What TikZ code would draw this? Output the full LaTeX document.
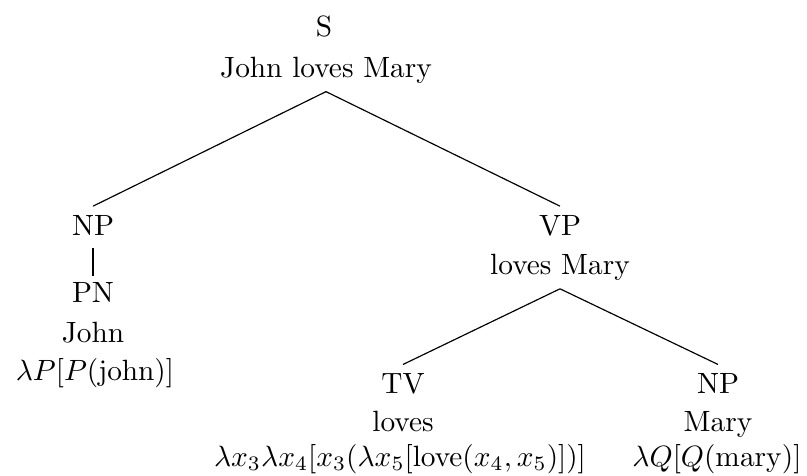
\documentclass[tikz,border=0pt]{standalone}
\begin{document}
\begin{tikzpicture}[x=0.341pt,y=-0.341pt,
  lbl/.style={inner sep=0pt,anchor=base},
  edge/.style={draw=black,line width=0.4pt}]
\useasboundingbox (0,0) rectangle (807,476);
% root
\node[lbl] (s) at (324,37) {S};
\node[lbl] (jlm) at (326,78) {John loves Mary};
% left branch
\node[lbl] (np1) at (93,235) {NP};
\node[lbl] (pn) at (93,302) {PN};
\node[lbl] (john) at (93,342) {John};
\node[lbl] (lp) at (95,380) {$\lambda P[P(\mathrm{john})]$};
% right branch
\node[lbl] (vp) at (560,235) {VP};
\node[lbl] (lm) at (560,274) {loves Mary};
\node[lbl] (tv) at (403,393) {TV};
\node[lbl] (loves) at (403,431) {loves};
\node[lbl] (lf) at (400,466) {$\lambda x_3\lambda x_4[x_3(\lambda x_5[\mathrm{love}(x_4,x_5)])]$};
\node[lbl] (np2) at (718,393) {NP};
\node[lbl] (mary) at (718,431) {Mary};
\node[lbl] (lq) at (717,466) {$\lambda Q[Q(\mathrm{mary})]$};
% edges
\draw[edge] ([yshift=-2.4pt]jlm.south) -- ([yshift=2.8pt]np1.north);
\draw[edge] ([yshift=-2.4pt]jlm.south) -- ([yshift=2.8pt]vp.north);
\draw[edge] ([yshift=-4.4pt]np1.south) -- ([yshift=2pt]pn.north);
\draw[edge] ([yshift=-2.8pt]lm.south) -- ([yshift=2.7pt]tv.north);
\draw[edge] ([yshift=-2.8pt]lm.south) -- ([yshift=2.7pt]np2.north);
\end{tikzpicture}
\end{document}
